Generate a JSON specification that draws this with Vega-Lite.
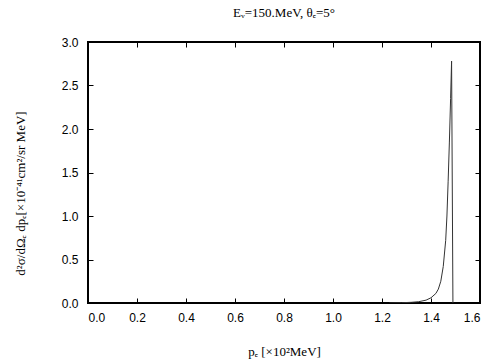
{
  "$schema": "https://vega.github.io/schema/vega-lite/v6.json",
  "width": 392,
  "height": 261,
  "autosize": {"type": "none"},
  "padding": {"left": 88, "top": 42, "right": 24, "bottom": 57},
  "background": "white",
  "title": {
    "text": "Eᵥ=150.MeV,  θₑ=5°",
    "font": "Liberation Serif",
    "fontWeight": "normal",
    "fontSize": 13,
    "color": "black",
    "anchor": "middle",
    "offset": 16
  },
  "config": {
    "view": {"stroke": "black", "strokeWidth": 2},
    "axis": {
      "domain": false,
      "grid": false,
      "ticks": true,
      "zindex": 1,
      "offset": -5,
      "tickSize": 5,
      "tickColor": "black",
      "tickWidth": 1,
      "labelFont": "Liberation Sans",
      "labelFontSize": 12,
      "labelColor": "black",
      "titleFont": "Liberation Serif",
      "titleFontSize": 13,
      "titleFontWeight": "normal",
      "titleColor": "black"
    }
  },
  "resolve": {"axis": {"x": "independent", "y": "independent"}},
  "data": {
    "values": [
      {"p": 1.23, "v": 0.0},
      {"p": 1.28, "v": 0.003},
      {"p": 1.32, "v": 0.008},
      {"p": 1.35, "v": 0.015},
      {"p": 1.38, "v": 0.033},
      {"p": 1.40, "v": 0.06},
      {"p": 1.42, "v": 0.11},
      {"p": 1.43, "v": 0.16},
      {"p": 1.44, "v": 0.25},
      {"p": 1.45, "v": 0.42},
      {"p": 1.46, "v": 0.72},
      {"p": 1.465, "v": 1.0},
      {"p": 1.47, "v": 1.4},
      {"p": 1.475, "v": 1.85},
      {"p": 1.48, "v": 2.35},
      {"p": 1.484, "v": 2.78},
      {"p": 1.4895, "v": 0.0}
    ]
  },
  "layer": [
    {
      "mark": {"type": "line", "color": "#333333", "strokeWidth": 1, "clip": true},
      "encoding": {
        "x": {
          "field": "p", "type": "quantitative",
          "scale": {"domain": [0, 1.6], "nice": false},
          "axis": {
            "orient": "bottom",
            "values": [0, 0.2, 0.4, 0.6, 0.8, 1.0, 1.2, 1.4, 1.6],
            "format": ".1f",
            "labelPadding": 9,
            "title": "pₑ [×10²MeV]",
            "titlePadding": 22
          }
        },
        "y": {
          "field": "v", "type": "quantitative",
          "scale": {"domain": [0, 3], "nice": false},
          "axis": {
            "orient": "left",
            "values": [0, 0.5, 1.0, 1.5, 2.0, 2.5, 3.0],
            "format": ".1f",
            "labelPadding": 10,
            "title": "d²σ/dΩₑ dpₑ[×10⁻⁴¹cm²/sr MeV]",
            "titleX": -73,
            "titleY": 151,
            "titleBaseline": "middle"
          }
        }
      }
    },
    {
      "mark": {"type": "line", "opacity": 0, "clip": true},
      "encoding": {
        "x": {
          "field": "p", "type": "quantitative",
          "axis": {"orient": "top", "values": [0, 0.2, 0.4, 0.6, 0.8, 1.0, 1.2, 1.4, 1.6], "labels": false, "title": null}
        },
        "y": {
          "field": "v", "type": "quantitative",
          "axis": {"orient": "right", "values": [0, 0.5, 1.0, 1.5, 2.0, 2.5, 3.0], "labels": false, "title": null}
        }
      }
    }
  ]
}
